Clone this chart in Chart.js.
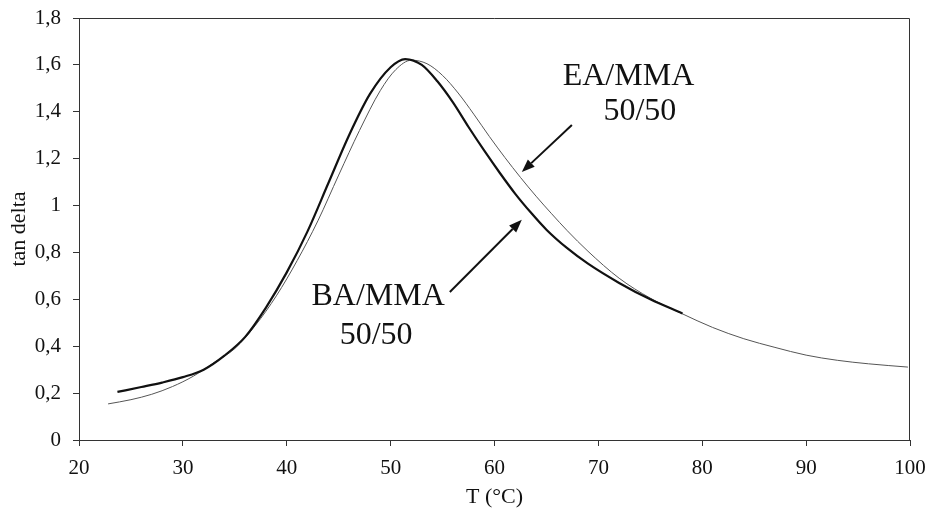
<!DOCTYPE html>
<html>
<head>
<meta charset="utf-8">
<title>tan delta vs T</title>
<script src="https://cdn.jsdelivr.net/npm/chart.js@4.4.1/dist/chart.umd.min.js"></script>
<style>
  html, body { margin: 0; padding: 0; background: #fff; }
  #wrap { width: 929px; height: 510px; position: relative; }
</style>
</head>
<body>
<div id="wrap"><canvas id="chart"></canvas></div>
<script>
// Data
const baTemp = [23.7, 26, 28, 30, 32, 34, 36, 38, 40, 42, 44, 46, 48, 50, 51.4,
  53, 54.5, 56, 57.5, 59, 60.5, 62, 63.5, 65, 67, 69, 72, 75, 78.1];
const baTan = [0.205, 0.226, 0.245, 0.268, 0.30, 0.36, 0.44, 0.565, 0.715, 0.89, 1.095, 1.30, 1.475, 1.59, 1.625,
  1.60, 1.53, 1.44, 1.335, 1.235, 1.14, 1.05, 0.97, 0.897, 0.818, 0.752, 0.67, 0.60, 0.54];

const eaTemp = [22.8, 25, 27, 29, 31, 33, 35, 37, 39, 41, 43, 45, 47, 49, 50.5, 52,
  53.5, 55, 56.5, 58, 59.5, 61, 62.5, 64, 65.5, 67, 69, 72, 75, 78, 81, 84, 87, 90, 93, 96, 99.8];
const eaTan = [0.154, 0.172, 0.195, 0.228, 0.272, 0.33, 0.39, 0.49, 0.615, 0.765, 0.935, 1.13, 1.32, 1.49, 1.58, 1.62,
  1.605, 1.555, 1.48, 1.39, 1.295, 1.205, 1.12, 1.04, 0.965, 0.893, 0.805, 0.69, 0.605, 0.54, 0.48, 0.432, 0.395, 0.362, 0.34, 0.325, 0.311];

const xTicks = [20, 30, 40, 50, 60, 70, 80, 90, 100];
const yTicks = [0, 0.2, 0.4, 0.6, 0.8, 1, 1.2, 1.4, 1.6, 1.8];

const FONT = '"Liberation Serif", "Times New Roman", serif';

// Labels and arrows (in data units)
const notes = [
  { text: 'EA/MMA', x: 72.9, y: 1.55 },
  { text: '50/50', x: 74.0, y: 1.40 },
  { text: 'BA/MMA', x: 48.8, y: 0.61 },
  { text: '50/50', x: 48.6, y: 0.445 }
];
const arrows = [
  { from: [67.45, 1.344], to: [62.63, 1.143] },
  { from: [55.7, 0.631], to: [62.63, 0.939] }
];

function toPoints(xs, ys) {
  return xs.map((x, i) => ({ x: x, y: ys[i] }));
}

function formatComma(v) {
  return String(Number(v.toFixed(1))).replace('.', ',');
}

// Box around plot, text notes and arrows
const extras = {
  id: 'extras',
  afterDatasetsDraw(chart) {
    const ctx = chart.ctx;
    const area = chart.chartArea;
    const xs = chart.scales.x;
    const ys = chart.scales.y;

    ctx.save();
    ctx.strokeStyle = '#333';
    ctx.lineWidth = 1;
    ctx.beginPath();
    ctx.moveTo(area.left, area.top + 0.5);
    ctx.lineTo(area.right - 0.5, area.top + 0.5);
    ctx.lineTo(area.right - 0.5, area.bottom);
    ctx.stroke();

    ctx.fillStyle = '#111';
    ctx.font = '32px ' + FONT;
    ctx.textAlign = 'center';
    ctx.textBaseline = 'middle';
    notes.forEach((n) => {
      ctx.fillText(n.text, xs.getPixelForValue(n.x), ys.getPixelForValue(n.y));
    });

    ctx.strokeStyle = '#111';
    ctx.lineWidth = 2;
    arrows.forEach((a) => {
      const x1 = xs.getPixelForValue(a.from[0]);
      const y1 = ys.getPixelForValue(a.from[1]);
      const x2 = xs.getPixelForValue(a.to[0]);
      const y2 = ys.getPixelForValue(a.to[1]);
      const ang = Math.atan2(y2 - y1, x2 - x1);
      const head = 13;
      const bx = x2 - head * Math.cos(ang);
      const by = y2 - head * Math.sin(ang);
      ctx.beginPath();
      ctx.moveTo(x1, y1);
      ctx.lineTo(bx, by);
      ctx.stroke();
      ctx.beginPath();
      ctx.moveTo(x2, y2);
      ctx.lineTo(bx + 5 * Math.sin(ang), by - 5 * Math.cos(ang));
      ctx.lineTo(bx - 5 * Math.sin(ang), by + 5 * Math.cos(ang));
      ctx.closePath();
      ctx.fill();
    });
    ctx.restore();
  }
};

const ctx = document.getElementById('chart').getContext('2d');
const chart = new Chart(ctx, {
  type: 'scatter',
  data: {
    datasets: [
      {
        label: 'BA/MMA 50/50',
        data: toPoints(baTemp, baTan),
        showLine: true,
        borderColor: '#111',
        borderWidth: 2.2,
        pointRadius: 0,
        cubicInterpolationMode: 'monotone'
      },
      {
        label: 'EA/MMA 50/50',
        data: toPoints(eaTemp, eaTan),
        showLine: true,
        borderColor: '#555',
        borderWidth: 1,
        pointRadius: 0,
        cubicInterpolationMode: 'monotone'
      }
    ]
  },
  options: {
    responsive: true,
    maintainAspectRatio: false,
    animation: false,
    layout: { padding: { left: 0, top: 18, right: 19, bottom: 0 } },
    plugins: {
      legend: { display: false },
      tooltip: { enabled: false }
    },
    scales: {
      x: {
        type: 'linear',
        min: 20,
        max: 100,
        afterBuildTicks(axis) {
          axis.ticks = xTicks.map((v) => ({ value: v }));
        },
        afterFit(axis) {
          axis.height = 70;
          axis.paddingLeft = 0;
          axis.paddingRight = 0;
        },
        grid: { drawOnChartArea: false, drawTicks: true, tickLength: 6, color: '#333' },
        border: { display: true, color: '#333', width: 1 },
        ticks: { color: '#111', font: { family: FONT, size: 21 }, padding: 10, maxRotation: 0 },
        title: { display: true, text: 'T (°C)', color: '#111', font: { family: FONT, size: 22 }, padding: { top: 0, bottom: 0 } }
      },
      y: {
        type: 'linear',
        min: 0,
        max: 1.8,
        afterBuildTicks(axis) {
          axis.ticks = yTicks.map((v) => ({ value: v }));
        },
        afterFit(axis) {
          axis.width = 79;
          axis.paddingTop = 0;
          axis.paddingBottom = 0;
        },
        grid: { drawOnChartArea: false, drawTicks: true, tickLength: 6, color: '#333' },
        border: { display: true, color: '#333', width: 1 },
        ticks: { color: '#111', font: { family: FONT, size: 21 }, padding: 12, callback: (v) => formatComma(v) },
        title: { display: true, text: 'tan delta', color: '#111', font: { family: FONT, size: 22 }, padding: { top: 6, bottom: 4 } }
      }
    }
  },
  plugins: [extras]
});
</script>
</body>
</html>
